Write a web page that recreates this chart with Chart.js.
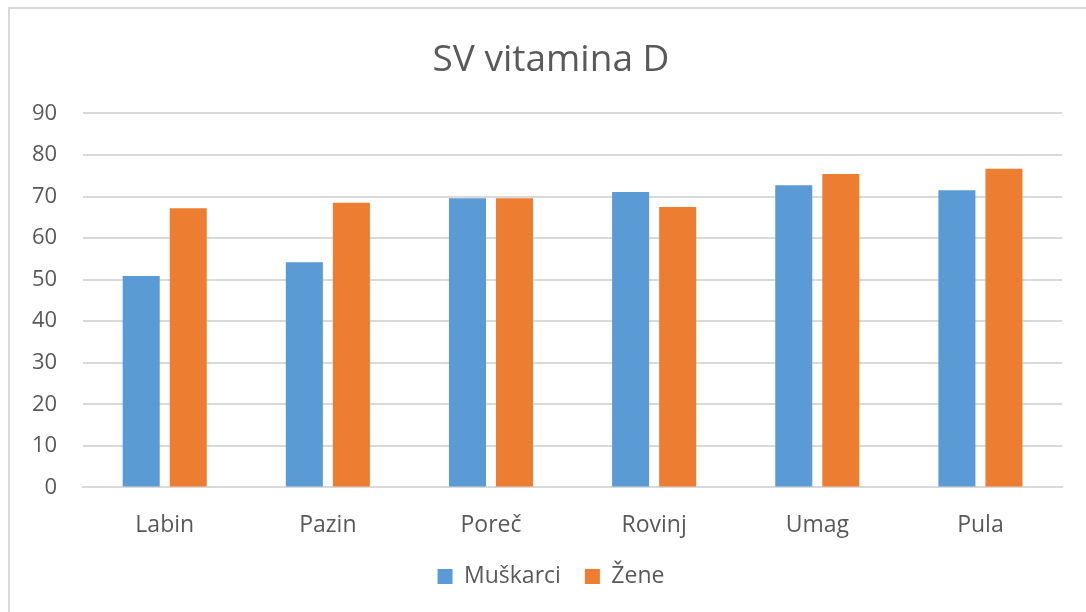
<!DOCTYPE html>
<html>
<head>
<meta charset="utf-8">
<script src="https://cdn.jsdelivr.net/npm/chart.js@4/dist/chart.umd.min.js"></script>
<style>
  html, body { margin: 0; padding: 0; background: #fff; }
  #frame {
    position: absolute; left: 8px; top: 7px; width: 1078px; height: 605px;
    border-top: 2px solid #d9d9d9; border-left: 2px solid #d9d9d9;
    box-sizing: border-box;
  }
  #wrap { position: absolute; left: 0; top: 0; width: 1086px; height: 612px; }
</style>
</head>
<body>
<div id="frame"></div>
<div id="wrap"><canvas id="chart-vitamin-d"></canvas></div>
<script>
// gradovi i srednje vrijednosti vitamina D
const gradovi = ['Labin', 'Pazin', 'Poreč', 'Rovinj', 'Umag', 'Pula'];
const muskarci = [50.9, 54.2, 69.6, 71.1, 72.7, 71.5];
const zene = [67.2, 68.5, 69.6, 67.5, 75.4, 76.7];
const yTicks = [0, 10, 20, 30, 40, 50, 60, 70, 80, 90];

const textColor = '#595959';
const fontFamily = "'Open Sans', sans-serif";

// naslov i legenda su u originalu malo udesno od sredine
const pomakUdesno = {
    id: 'pomakUdesno',
    afterLayout(chart) {
        chart.titleBlock.left += 34;
        chart.legend.left += 34;
    }
};

const ctx = document.getElementById('chart-vitamin-d');
new Chart(ctx, {
    type: 'bar',
    data: {
        labels: gradovi,
        datasets: [{
            label: 'Muškarci',
            data: muskarci,
            backgroundColor: '#5b9bd5'
        }, {
            label: 'Žene',
            data: zene,
            backgroundColor: '#ed7d31'
        }]
    },
    options: {
        responsive: true,
        maintainAspectRatio: false,
        animation: false,
        categoryPercentage: 0.577,
        barPercentage: 0.787,
        layout: { padding: { left: 6, right: 24, top: 38, bottom: 14 } },
        plugins: {
            title: {
                display: true,
                text: 'SV vitamina D',
                color: textColor,
                font: { family: fontFamily, size: 37, weight: 'normal' },
                padding: { top: 0, bottom: 31 }
            },
            legend: {
                position: 'bottom',
                labels: {
                    color: textColor,
                    font: { family: fontFamily, size: 23 },
                    boxWidth: 15,
                    boxHeight: 15,
                    padding: 24
                }
            },
            tooltip: { enabled: false }
        },
        scales: {
            x: {
                grid: { display: false },
                border: { color: '#d9d9d9', width: 2 },
                ticks: { color: textColor, font: { family: fontFamily, size: 23 }, padding: 16 },
                afterFit: (scale) => { scale.height -= 14; }
            },
            y: {
                min: 0,
                max: 90,
                afterBuildTicks: (axis) => { axis.ticks = yTicks.map((v) => ({ value: v })); },
                grid: { color: '#d9d9d9', lineWidth: 2, drawTicks: false },
                border: { display: false },
                ticks: { color: textColor, font: { family: fontFamily, size: 22 }, padding: 26 }
            }
        }
    },
    plugins: [pomakUdesno]
});
</script>
</body>
</html>
